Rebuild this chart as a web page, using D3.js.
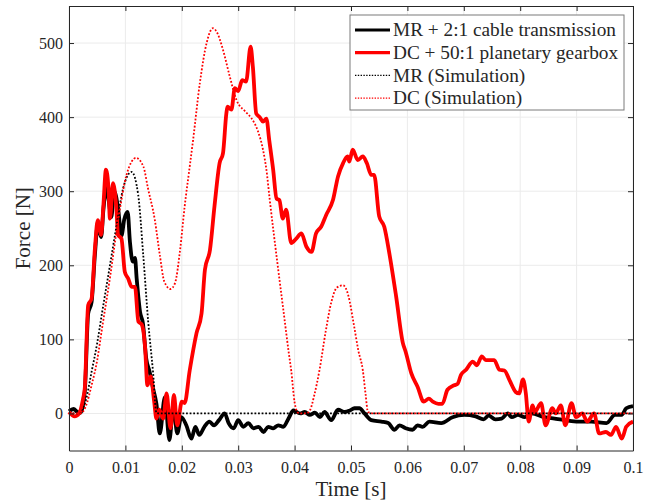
<!DOCTYPE html>
<html>
<head>
<meta charset="utf-8">
<script src="https://cdn.jsdelivr.net/npm/d3@7"></script>
<style>
  body { margin: 0; background: #fff; }
  svg text { font-family: "Liberation Serif", "Times New Roman", serif; fill: #262626; }
</style>
</head>
<body>
<svg id="chart" width="655" height="504"></svg>
<script>
// series values, [time in s, force in N]
var mrMeasured = [
  [0,3],[0.0008,6],[0.0015,2],[0.002,1],[0.0028,30],[0.0034,135],[0.004,150],[0.0046,215],[0.0051,255],
  [0.0057,238],[0.0061,275],[0.0066,305],[0.007,290],[0.0075,265],[0.008,300],[0.0087,277],[0.0093,240],
  [0.0098,262],[0.0104,272],[0.0108,232],[0.0113,205],[0.0117,210],[0.012,182],[0.0126,137],[0.0131,122],
  [0.0137,74],[0.0143,56],[0.0149,34],[0.0155,13],[0.0161,-27],[0.017,22],[0.0178,-36],[0.0185,9],
  [0.0192,-27],[0.0199,-5],[0.0208,-16],[0.0217,-34],[0.0224,-18],[0.0231,-29],[0.024,-18],[0.0249,-11],
  [0.0257,-16],[0.0266,-9],[0.0276,0],[0.0283,-13],[0.0292,-20],[0.03,-9],[0.0309,-18],[0.0318,-13],
  [0.0327,-20],[0.0336,-18],[0.0345,-25],[0.0353,-18],[0.0362,-20],[0.0371,-16],[0.038,-18],[0.0389,-7],
  [0.0398,4],[0.041,0],[0.0418,2],[0.0427,-2],[0.0436,1],[0.0445,-5],[0.0453,2],[0.0465,-9],[0.0477,5],
  [0.0489,2],[0.0498,4],[0.0506,7],[0.0515,7],[0.0524,0],[0.0536,-9],[0.0554,-11],[0.0566,-13],
  [0.0577,-22],[0.0586,-16],[0.0597,-20],[0.0609,-22],[0.0618,-16],[0.0627,-18],[0.0639,-11],[0.066,-13],
  [0.068,-5],[0.0701,-2],[0.0721,-4],[0.0735,-8],[0.0744,-3],[0.0756,-8],[0.0767,-7],[0.0778,0],
  [0.0785,-5],[0.0796,-2],[0.0808,-5],[0.082,0],[0.0843,-5],[0.0861,-7],[0.0879,-9],[0.0903,-11],
  [0.0926,-11],[0.0953,-13],[0.0968,-2],[0.098,-2],[0.0988,7],[0.1,10]
];
var dcMeasured = [
  [0,2],[0.001,-4],[0.0018,0],[0.0025,20],[0.0028,34],[0.0034,146],[0.004,155],[0.0046,223],[0.0051,261],
  [0.0057,241],[0.0061,281],[0.00655,329],[0.007,304],[0.00726,263],[0.0078,311],[0.0084,277],[0.0087,241],
  [0.0093,236],[0.0099,191],[0.0105,182],[0.0111,171],[0.0117,171],[0.0123,124],[0.0129,120],[0.0135,88],
  [0.0139,38],[0.0145,50],[0.0151,16],[0.0155,-7],[0.016,5],[0.0167,-7],[0.0173,27],[0.018,-20],
  [0.0186,25],[0.0192,-16],[0.02,16],[0.0205,14],[0.0214,58],[0.0226,108],[0.0235,135],[0.0241,194],
  [0.025,221],[0.0258,280],[0.0267,338],[0.0273,351],[0.0279,405],[0.0281,414],[0.0288,410],[0.0294,439],
  [0.03,435],[0.0307,450],[0.0314,448],[0.0322,495],[0.0326,468],[0.0332,405],[0.0338,400],[0.0344,394],
  [0.035,398],[0.0355,369],[0.0362,329],[0.0368,290],[0.0373,288],[0.0379,263],[0.0385,275],[0.0394,230],
  [0.0403,236],[0.0412,243],[0.0421,225],[0.043,218],[0.0438,243],[0.0447,252],[0.0456,268],[0.0468,288],
  [0.0477,320],[0.0486,338],[0.0494,347],[0.0497,340],[0.0503,356],[0.0512,342],[0.0521,347],[0.0528,338],
  [0.0536,322],[0.0541,322],[0.055,266],[0.0559,252],[0.0568,216],[0.058,158],[0.0592,95],[0.0597,83],
  [0.0607,54],[0.0618,36],[0.0629,16],[0.0638,20],[0.0645,16],[0.0655,13],[0.0662,13],[0.0671,32],
  [0.0683,38],[0.0689,40],[0.0695,52],[0.0704,59],[0.0716,70],[0.0723,65],[0.0732,77],[0.0739,72],
  [0.0754,72],[0.0763,59],[0.0772,58],[0.0781,45],[0.0792,29],[0.0798,27],[0.0805,46],[0.081,27],
  [0.0815,-11],[0.0822,11],[0.0826,2],[0.0837,14],[0.0845,-16],[0.0857,7],[0.0863,0],[0.0872,11],
  [0.088,-16],[0.0891,14],[0.0899,-5],[0.091,0],[0.0919,-11],[0.0931,0],[0.094,-27],[0.0952,-25],
  [0.0961,-29],[0.097,-18],[0.098,-34],[0.0988,-18],[0.1,-11]
];
var mrSimulation = [
  [0,0],[0.002,0],[0.00225,2],[0.003,18],[0.004,56],[0.005,95],[0.0058,133],[0.00726,200],[0.00844,254],
  [0.0096,304],[0.0111,326],[0.01227,295],[0.01316,214],[0.01404,124],[0.0149,56],[0.0155,1],[0.016,0],
  [0.1,0]
];
var dcSimulation = [
  [0,0],[0.002,0],[0.003,10],[0.004,38],[0.005,72],[0.0058,112],[0.0073,185],[0.0087,260],[0.0102,322],
  [0.0119,345],[0.0132,333],[0.014,304],[0.0152,262],[0.0161,214],[0.0169,178],[0.018,168],[0.0188,176],
  [0.0197,221],[0.0205,279],[0.0214,333],[0.022,369],[0.0232,446],[0.0244,500],[0.0255,520],[0.0262,515],
  [0.0273,491],[0.0285,455],[0.0297,423],[0.0312,408],[0.0323,399],[0.0335,381],[0.0344,356],[0.035,329],
  [0.0356,288],[0.037,200],[0.038,140],[0.039,80],[0.0394,58],[0.04,15],[0.0406,1],[0.041,0],[0.042,0],
  [0.0427,4],[0.0435,25],[0.0444,58],[0.0455,110],[0.0465,150],[0.0475,170],[0.0486,173],[0.0495,160],
  [0.0505,120],[0.0513,85],[0.0521,58],[0.0526,25],[0.053,2],[0.054,0],[0.1,0]
];
var xTicks = [0,0.01,0.02,0.03,0.04,0.05,0.06,0.07,0.08,0.09,0.1];
var xTickLabels = ["0","0.01","0.02","0.03","0.04","0.05","0.06","0.07","0.08","0.09","0.1"];
var yTicks = [0,100,200,300,400,500];
var legendLabels = ["MR + 2:1 cable transmission","DC + 50:1 planetary gearbox","MR (Simulation)","DC (Simulation)"];

var margin = {left: 69, top: 6, right: 22, bottom: 53.5};
var width = 655 - margin.left - margin.right, height = 504 - margin.top - margin.bottom;

var svg = d3.select("#chart");
var chart = svg.append("g").attr("transform", `translate(${margin.left},${margin.top})`);

var x = d3.scaleLinear().domain([0, 0.1]).range([0, width]);
var y = d3.scaleLinear().domain([-50, 550]).range([height, 0]);

// grid
chart.append("g").selectAll("line").data(xTicks).enter().append("line")
  .attr("x1", d => x(d)).attr("x2", d => x(d)).attr("y1", 0).attr("y2", height)
  .attr("stroke", "#ebebeb").attr("stroke-width", 1);
chart.append("g").selectAll("line").data(yTicks).enter().append("line")
  .attr("y1", d => y(d)).attr("y2", d => y(d)).attr("x1", 0).attr("x2", width)
  .attr("stroke", "#ebebeb").attr("stroke-width", 1);

// lines
var line = d3.line().x(d => x(d[0])).y(d => y(d[1])).curve(d3.curveMonotoneX);
var series = [
  {data: mrMeasured, color: "#000", w: 3.8, dash: null},
  {data: dcMeasured, color: "#ff0000", w: 3.8, dash: null},
  {data: mrSimulation, color: "#000", w: 1.8, dash: "1.8,1.8"},
  {data: dcSimulation, color: "#ff0000", w: 1.8, dash: "1.8,1.8"}
];
var plot = chart.append("g");
plot.selectAll("path").data(series).enter().append("path")
  .attr("d", d => line(d.data))
  .attr("fill", "none")
  .attr("stroke", d => d.color)
  .attr("stroke-width", d => d.w)
  .attr("stroke-dasharray", d => d.dash)
  .attr("stroke-linejoin", "round");

// axes (ticks inward, box)
function styleAxis(g) {
  g.select(".domain").attr("stroke", "#262626").attr("stroke-width", 1);
  g.selectAll(".tick line").attr("stroke", "#262626");
  g.selectAll(".tick text").attr("font-size", 16).attr("fill", "#262626");
}
chart.append("g").attr("transform", `translate(0,${height})`)
  .call(d3.axisBottom(x).tickValues(xTicks).tickFormat((d, i) => xTickLabels[i]).tickSizeInner(-5).tickSizeOuter(0).tickPadding(11))
  .call(styleAxis);
chart.append("g")
  .call(d3.axisTop(x).tickValues(xTicks).tickFormat("").tickSizeInner(-5).tickSizeOuter(0))
  .call(styleAxis);
chart.append("g")
  .call(d3.axisLeft(y).tickValues(yTicks).tickSizeInner(-5).tickSizeOuter(0).tickPadding(6))
  .call(styleAxis);
chart.append("g").attr("transform", `translate(${width},0)`)
  .call(d3.axisRight(y).tickValues(yTicks).tickFormat("").tickSizeInner(-5).tickSizeOuter(0))
  .call(styleAxis);

// axis titles
svg.append("text").attr("x", margin.left + width / 2).attr("y", 496)
  .attr("text-anchor", "middle").attr("font-size", 21).text("Time [s]");
svg.append("text").attr("transform", `translate(30,${margin.top + height / 2}) rotate(-90)`)
  .attr("text-anchor", "middle").attr("font-size", 21).text("Force [N]");

// legend
var legend = chart.append("g").attr("transform", "translate(281,9)");
legend.append("rect").attr("width", 274).attr("height", 95)
  .attr("fill", "#fff").attr("stroke", "#7a7a7a").attr("stroke-width", 1);
var items = legend.selectAll("g.item").data(series).enter().append("g")
  .attr("transform", (d, i) => `translate(0,${15 + i * 22.7})`);
items.append("line").attr("x1", 5).attr("x2", 40).attr("y1", 0).attr("y2", 0)
  .attr("stroke", d => d.color).attr("stroke-width", (d, i) => i < 2 ? 3.2 : 1.4)
  .attr("stroke-dasharray", (d, i) => i < 2 ? null : "1.4,1.4");
items.append("text").attr("x", 43).attr("y", 0).attr("dy", "0.33em")
  .attr("font-size", 19.3).text((d, i) => legendLabels[i]);
</script>
</body>
</html>
